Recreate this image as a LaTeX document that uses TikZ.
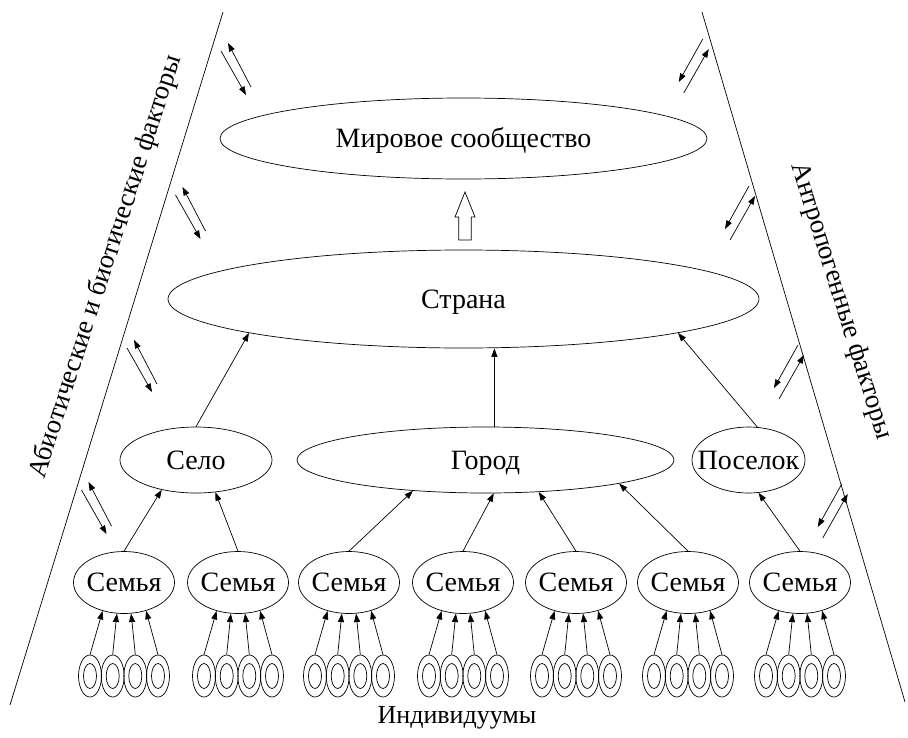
\documentclass[tikz,border=0pt]{standalone}
\usepackage{fontspec}
\setmainfont{Liberation Serif}
\usetikzlibrary{shapes.geometric,arrows.meta}
\begin{document}
\begin{tikzpicture}[x=1pt,y=-1pt,
  every path/.style={line width=0.7pt},
  lvl/.style={ellipse, draw, inner sep=0pt, font=\fontsize{28}{32}\selectfont,
    text height=20pt, text depth=2pt},
  fam/.style={lvl, minimum width=101pt, minimum height=62pt},
  indiv/.style={ellipse, draw, inner sep=0pt, minimum width=23pt, minimum height=42pt,
    path picture={\draw (path picture bounding box.center) ellipse [x radius=6.5pt, y radius=12.5pt];}},
  tip/.style={-{Triangle[length=8.5pt,width=6pt]}},
  side/.style={font=\fontsize{27}{32}\selectfont, inner sep=0pt},
  leftpair/.pic={\draw[tip] (14.5,18) -- (-8.5,-26); \draw[tip] (-15.5,-18) -- (9.5,26);},
  rightpair/.pic={\draw[tip] (9,-27) -- (-15,16); \draw[tip] (-10,27) -- (15,-17);}
]
\useasboundingbox (0,0) rectangle (908,737);

% trapezoid sides
\coordinate (lt) at (223,12);
\coordinate (lb) at (10,705);
\coordinate (rt) at (702,12);
\coordinate (rb) at (905,702);
\draw (lt) -- (lb);
\draw (rt) -- (rb);

% side labels
\node[side, rotate=72] (abio) at (106,267) {Абиотические и биотические факторы};
\node[side, rotate=-72.5] (anthro) at (841,301) {Антропогенные факторы};

% levels
\node[lvl, minimum width=487pt, minimum height=81pt] (mir) at (463.5,138.5) {\makebox[0pt]{Мировое сообщество}};
\node[lvl, minimum width=591pt, minimum height=98pt] (strana) at (463.5,299) {\makebox[0pt]{Страна}};
\node[lvl, minimum width=152pt, minimum height=66pt] (selo) at (196,460) {\makebox[0pt]{Село}};
\node[lvl, minimum width=377pt, minimum height=66pt] (gorod) at (485.5,460) {\makebox[0pt]{Город}};
\node[lvl, minimum width=113pt, minimum height=66pt] (poselok) at (748.5,460) {\makebox[0pt]{Поселок}};

% families and individuals
\foreach \i/\x in {1/124,2/238,3/349,4/463,5/576,6/688,7/800}{
  \node[fam] (s\i) at (\x,582.5) {\makebox[0pt]{Семья}};
  \foreach \k/\dx/\a in {1/-34/-127,2/-11.3/-103,3/11.3/-77,4/34/-52}{
    \node[indiv] (i\i\k) at (\x+\dx,676) {};
    \draw[tip] (i\i\k.north) -- (s\i.\a);
  }
}

% families to settlements
\draw[tip] (s1.north) -- (selo.-139);
\draw[tip] (s2.north) -- (selo.-59);
\draw[tip] (s3.north) -- (gorod.-157);
\draw[tip] (s4.north) -- (gorod.-76);
\draw[tip] (s5.north) -- (gorod.-31);
\draw[tip] (s6.north) -- (gorod.-10);
\draw[tip] (s7.north) -- (poselok.-73);

% settlements to country
\draw[tip] (selo.north) -- (strana.-171);
\draw[tip] (gorod.75) -- (gorod.75 |- strana.south);
\draw[tip] (poselok.75) -- (strana.-9);

% hollow arrow country -> world
\coordinate (ha) at (465,192);
\draw (ha) -- ++(10,25) -- ++(-3.75,0) -- ++(0,23) -- ++(-12.5,0) -- ++(0,-23) -- ++(-3.75,0) -- cycle;

% interaction arrow pairs
\pic at (236.5,69) {leftpair};
\pic at (191,213) {leftpair};
\pic at (142.5,366) {leftpair};
\pic at (97,508) {leftpair};
\pic at (693.75,66) {rightpair};
\pic at (740,213) {rightpair};
\pic at (789,372) {rightpair};
\pic at (832.75,511) {rightpair};

% bottom label
\node[font=\fontsize{26}{30}\selectfont] (ind) at (457,718) {Индивидуумы};
\end{tikzpicture}
\end{document}
